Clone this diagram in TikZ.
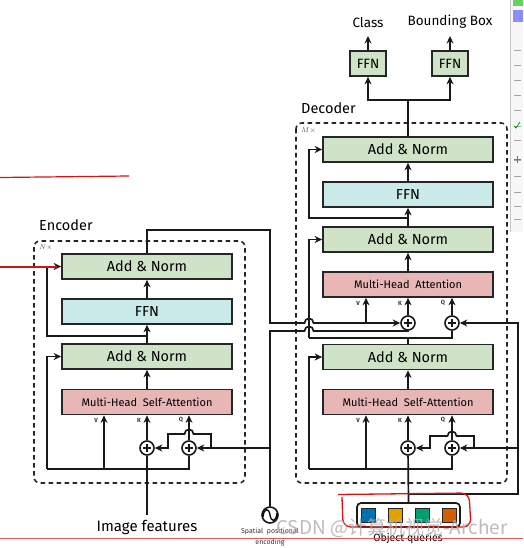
\documentclass[tikz,border=0pt]{standalone}
\usepackage{fontspec}
\setmainfont{Fira Sans}
\newfontfamily\cjk{Noto Sans CJK SC}
\usetikzlibrary{arrows.meta,calc}
\definecolor{ancol}{RGB}{207,227,200}
\definecolor{ffncol}{RGB}{202,233,233}
\definecolor{attcol}{RGB}{233,182,182}
\definecolor{qa}{RGB}{0,114,178}
\definecolor{qb}{RGB}{230,159,0}
\definecolor{qc}{RGB}{0,158,115}
\definecolor{qd}{RGB}{213,94,0}
\definecolor{annot}{RGB}{210,20,20}
\tikzset{
  blk/.style={draw=black!85, line width=1.7pt, minimum width=170pt, minimum height=25pt, inner sep=0pt, font=\fontsize{14.5}{16}\selectfont},
  an/.style={blk, fill=ancol},
  ffnbox/.style={blk, fill=ffncol},
  att/.style={blk, fill=attcol, font=\fontsize{11}{12}\selectfont},
  smallffn/.style={blk, fill=ancol, minimum width=36pt, font=\fontsize{13.5}{15}\selectfont},
  plus/.style={circle, draw=black!90, line width=1.6pt, minimum size=14pt, inner sep=0pt, fill=white,
    path picture={\draw[line width=1.1pt] ([xshift=-3.8pt]path picture bounding box.center) -- ([xshift=3.8pt]path picture bounding box.center);
                  \draw[line width=1.1pt] ([yshift=-3.8pt]path picture bounding box.center) -- ([yshift=3.8pt]path picture bounding box.center);}},
  wire/.style={line width=1.7pt, draw=black!90},
  arr/.style={wire, -{Stealth[length=7.5pt,width=7pt]}},
  dbox/.style={line width=1.6pt, dash pattern=on 4.5pt off 3.5pt, rounded corners=6pt, draw=black!85},
  lbl/.style={font=\fontsize{14.5}{16}\selectfont, inner sep=0pt},
  vkq/.style={font=\fontsize{6}{7}\selectfont\bfseries, inner sep=0pt, text=black!80},
  times/.style={font=\fontsize{7}{8}\selectfont, inner sep=0pt, text=black!70},
  sq/.style={draw=black!85, line width=0.9pt, minimum size=14pt, inner sep=0pt},
}
\begin{document}
\begin{tikzpicture}[x=1pt,y=-1pt]
\useasboundingbox[fill=white] (0,0) rectangle (523,548);

% toolbar at the right edge
\fill[gray!6] (510,0) rectangle (523,232);
\draw[gray!45, line width=0.6pt] (510,0) -- (510,232);
\fill[green!70!black!60] (513,0) rectangle (523,6);
\fill[blue!45] (513,10) rectangle (523,22);
\foreach \yy in {50,65,80,95,110,126,140,160,176,192,206,219}
  \draw[gray!70, line width=0.7pt] (514,\yy) -- (521,\yy);
\draw[green!60!black, line width=0.8pt] (514,126) -- (516,128) -- (520,122);
\draw[blue!60, line width=1pt] (514,160) -- (521,160) (517.5,156.5) -- (517.5,163.5);

% dashed frames
\draw[dbox] (34,241) rectangle (245,483);
\draw[dbox] (296,123) rectangle (507,483);
\node[lbl, anchor=west] (enc) at (39,225) {Encoder};
\node[lbl, anchor=west] (dec) at (301,108) {Decoder};
\node[times, anchor=west] (nx) at (39,248) {$N\times$};
\node[times, anchor=west] (mx) at (301,131) {$M\times$};

% ---------------- Encoder ----------------
\node[an] (eAN1) at (147,266.5) {Add \& Norm};
\node[ffnbox] (eFFN) at (147,311.5) {FFN};
\node[an] (eAN2) at (147,356.5) {Add \& Norm};
\node[att] (eMHSA) at (147,402) {Multi-Head\ \ Self-Attention};
\node[plus] (eK) at (147,448) {};
\node[plus] (eQ) at (189,448) {};
\node[vkq] (eVl) at (96,420) {V};
\node[vkq] (eKl) at (139,420) {K};
\node[vkq] (eQl) at (181,420) {Q};
\node[circle, draw=black!90, line width=1.6pt, minimum size=16pt, inner sep=0pt] (spe) at (270,515) {};
\draw[line width=1.3pt] (263,517) .. controls (264,507) and (269,508) .. (270,515) .. controls (271,522) and (276,523) .. (277,513);
\node[lbl, font=\fontsize{15}{16}\selectfont] (imgf) at (147,527) {Image features};
\node[font=\fontsize{7}{8}\selectfont, inner sep=0pt, text=black!80] (spl1) at (270,532) {Spatial\ \ positional};
\node[font=\fontsize{7}{8}\selectfont, inner sep=0pt, text=black!80] (spl2) at (270,543) {encoding};

\coordinate (img) at (147,515);
\coordinate (eB) at (47,469);
\coordinate (eV) at (104,469);
\coordinate (eBr) at (189,469);
\draw[wire] (img) -- (eK);
\draw[wire] (eB) -- (eBr) -- (eQ);
\draw[arr] (eB) |- (eAN2.west);
\draw[arr] (eV) -- (eV |- eMHSA.south);
\draw[arr] (eK.north) -- (eK.north |- eMHSA.south);
\draw[arr] (eQ.north) -- (eQ.north |- eMHSA.south);
\draw[arr] (211,448) -- (211,434) -- (193.5,434) .. controls (193.5,428) and (184.5,428) .. (184.5,434) -- (168,434) -- (168,448) -- (eK.east);
\draw[arr] (270,448) -- (eQ.east);
\draw[arr] (eMHSA) -- (eAN2);
\draw[arr] (eAN2) -- (eFFN);
\draw[arr] (147,336) -- (47,336) |- (eAN1.west);
\draw[arr] (eFFN) -- (eAN1);

% ---------------- Decoder ----------------
\node[an] (dAN3) at (408,149.5) {Add \& Norm};
\node[ffnbox] (dFFN) at (408,194.5) {FFN};
\node[an] (dAN2) at (408,239.5) {Add \& Norm};
\node[att] (dMHA) at (408,284.5) {Multi-Head\ \ Attention};
\node[plus] (dK1) at (408,323) {};
\node[plus] (dQ1) at (452,323) {};
\node[an] (dAN1) at (408,357) {Add \& Norm};
\node[att] (dMHSA) at (408,402) {Multi-Head\ \ Self-Attention};
\node[plus] (dK0) at (408,448) {};
\node[plus] (dQ0) at (452,448) {};
\node[vkq] (dVl1) at (358,303) {V};
\node[vkq] (dKl1) at (400,303) {K};
\node[vkq] (dQl1) at (443,303) {Q};
\node[vkq] (dVl0) at (358,420) {V};
\node[vkq] (dKl0) at (400,420) {K};
\node[vkq] (dQl0) at (443,420) {Q};

\node[smallffn] (cF) at (368,63.5) {FFN};
\node[smallffn] (bF) at (450,63.5) {FFN};
\node[font=\fontsize{13.5}{15}\selectfont, inner sep=0pt] (cls) at (368,23) {Class};
\node[font=\fontsize{13.5}{15}\selectfont, inner sep=0pt] (bbox) at (450,22) {Bounding Box};

\node[draw=black!90, line width=1.7pt, rounded corners=4pt, minimum width=103pt, minimum height=24pt, inner sep=0pt] (oq) at (408.5,515) {};
\node[sq, fill=qa] (q1) at (368,515) {};
\node[sq, fill=qb] (q2) at (395,515) {};
\node[sq, fill=qc] (q3) at (422,515) {};
\node[sq, fill=qd] (q4) at (449,515) {};
\node[font=\fontsize{10.5}{12}\selectfont, inner sep=0pt] (oql) at (408,539) {Object queries};

% memory and positional lines from encoder side
\coordinate (dV1) at (366,323);
\coordinate (dV0) at (366,469);
\draw[arr] (eAN1.north) -- (147,230) -- (270,230) -- (270,323) -- (304.5,323) .. controls (304.5,317) and (313.5,317) .. (313.5,323) -- (dK1.west);
\draw[arr] (dV1) -- (dV1 |- dMHA.south);
\draw[wire] (spe.north) -- (270,331) -- (304.5,331) .. controls (304.5,325) and (313.5,325) .. (313.5,331) -| (dK1.south);

\coordinate (dJ) at (408,494);
\coordinate (dR) at (518,494);
\draw[wire] (oq.north) -- (dK0);
\draw[arr] (dJ) -- (dR) -- (518,323) -- (dQ1.east);
\draw[arr] (518,448) -- (dQ0.east);
\draw[arr] (474,448) -- (474,436) -- (456.5,436) .. controls (456.5,430) and (447.5,430) .. (447.5,436) -- (430,436) -- (430,448) -- (dK0.east);
\draw[arr] (dQ0.north) -- (dQ0.north |- dMHSA.south);
\draw[arr] (dK0.north) -- (dK0.north |- dMHSA.south);
\draw[wire] (309,469) -- (452,469) -- (dQ0.south);
\draw[arr] (dV0) -- (dV0 |- dMHSA.south);
\draw[arr] (309,469) |- (dAN1.west);
\draw[arr] (dMHSA) -- (dAN1);
\draw[wire] (dAN1.north) -- (408,338);
\draw[wire] (309,338) -- (452,338) -- (dQ1.south);
\draw[arr] (309,338) |- (dAN2.west);
\draw[arr] (dK1.north) -- (dK1.north |- dMHA.south);
\draw[arr] (dQ1.north) -- (dQ1.north |- dMHA.south);
\draw[arr] (dMHA) -- (dAN2);
\draw[arr] (dAN2) -- (dFFN);
\draw[arr] (408,218) -- (309,218) |- (dAN3.west);
\draw[arr] (dFFN) -- (dAN3);
\draw[wire] (dAN3.north) -- (408,100);
\draw[arr] (408,100) -| (cF.south);
\draw[arr] (408,100) -| (bF.south);
\draw[arr] (cF.north) -- (368,36);
\draw[arr] (bF.north) -- (450,36);

% red annotations
\draw[annot, line width=1.2pt] (0,177.5) -- (129,176);
\draw[annot, line width=1.2pt] (0,267) -- (57,267);
\draw[annot, line width=1.3pt, rounded corners=8pt] (338,494.5) -- (469,493) -- (471,527) -- (343,527) -- (342,497);
\draw[annot!70, line width=0.6pt] (0,538) -- (523,538);

% watermark
\node[font=\cjk\fontsize{19}{20}\selectfont, text=gray!65, opacity=0.8, inner sep=0pt] (wm) at (392,528) {CSDN @计算机视觉-Archer};
\end{tikzpicture}
\end{document}
